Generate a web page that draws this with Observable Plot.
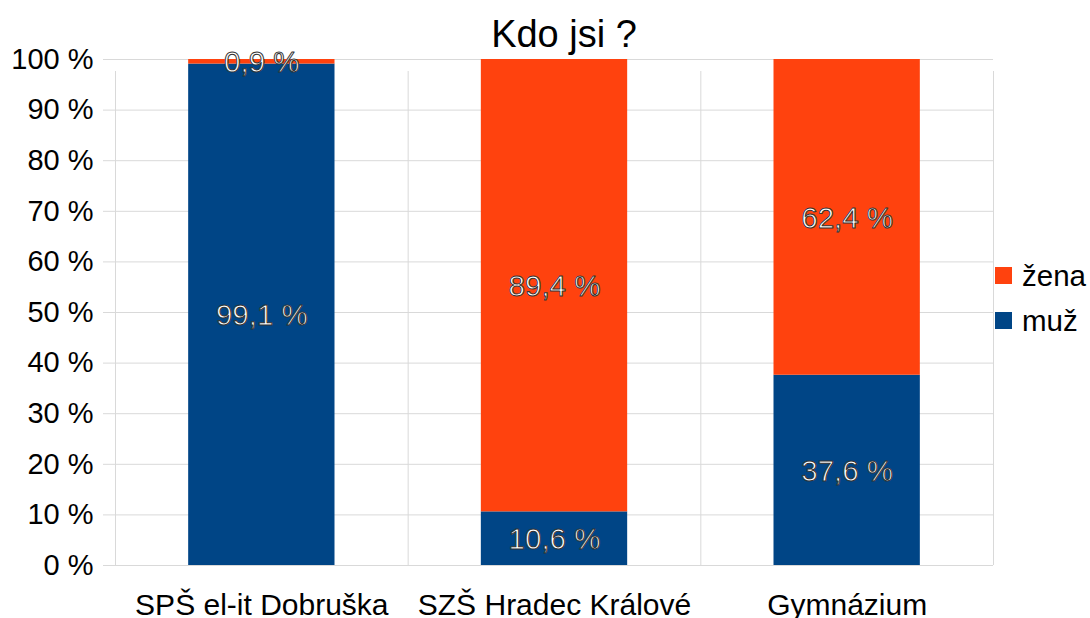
<!DOCTYPE html>
<html>
<head>
<meta charset="utf-8">
<script src="https://cdn.jsdelivr.net/npm/d3@7"></script>
<script src="https://cdn.jsdelivr.net/npm/@observablehq/plot@0.6"></script>
<style>
  html, body { margin: 0; padding: 0; background: #fff; }
  body { font-family: "Liberation Sans", Arial, sans-serif; }
  #wrap { position: relative; width: 1090px; height: 618px; }
  #title { position: absolute; left: 0; width: 1128px; top: 10px; text-align: center; font-size: 38px; line-height: 48px; color: #000; }
  #legend { position: absolute; left: 995px; top: 253px; font-size: 29.5px; color: #000; }
  .item { display: flex; align-items: center; height: 45px; }
  .sw { width: 17px; height: 17px; margin-right: 10px; }
</style>
</head>
<body>
<div id="wrap">
  <div id="chart"></div>
  <div id="title">Kdo jsi ?</div>
  <div id="legend"></div>
</div>
<script>
const categories = ["SPŠ el-it Dobruška", "SZŠ Hradec Králové", "Gymnázium"];
const seriesNames = ["muž", "žena"];
const muz = [99.1, 10.6, 37.6];
const zena = [0.9, 89.4, 62.4];
const colors = ["#004586", "#ff420e"];
const yTicks = [0, 10, 20, 30, 40, 50, 60, 70, 80, 90, 100];

const rows = [];
categories.forEach((c, i) => {
  rows.push({cat: c, i, series: seriesNames[0], value: muz[i]});
  rows.push({cat: c, i, series: seriesNames[1], value: zena[i]});
});
const fmt = v => v.toFixed(1).replace(".", ",") + " %";

const chart = Plot.plot({
  width: 1090,
  height: 618,
  marginLeft: 115,
  marginRight: 97,
  marginTop: 59,
  marginBottom: 53,
  style: {fontFamily: "Liberation Sans, Arial, sans-serif", fontSize: "29px", background: "#fff", overflow: "visible"},
  x: {type: "linear", domain: [0, categories.length], axis: null},
  y: {domain: [0, 100], axis: null},
  color: {domain: seriesNames, range: colors},
  marks: [
    Plot.ruleY(yTicks, {stroke: "#d9d9d9", strokeWidth: 1, insetLeft: -12}),
    Plot.ruleX(d3.range(categories.length + 1), {y1: 0, y2: 100, stroke: "#d9d9d9", strokeWidth: 1, insetBottom: -12}),
    Plot.rectY(rows, Plot.stackY({
      x1: d => d.i + 0.25, x2: d => d.i + 0.75, y: "value", z: "series", fill: "series", order: seriesNames
    })),
    Plot.text(rows, Plot.stackY({
      x: d => d.i + 0.5, y: "value", z: "series", text: d => fmt(d.value), order: seriesNames,
      fill: "white", stroke: "#333", strokeWidth: 1, paintOrder: "normal", fontSize: 29.5, dy: 1
    })),
    Plot.axisY(yTicks, {label: null, tickSize: 0, tickPadding: 22, tickFormat: d => d + " %", fill: "#000", fontSize: 29})
    ,
    Plot.axisX(categories.map((c, i) => i + 0.5), {label: null, tickSize: 0, tickPadding: 28, tickFormat: (d) => categories[Math.floor(d)], fill: "#000", fontSize: 30})
  ]
});
document.getElementById("chart").appendChild(chart);

const legend = document.getElementById("legend");
[1, 0].forEach(k => {
  const it = document.createElement("div");
  it.className = "item";
  it.innerHTML = `<div class="sw" style="background:${colors[k]}"></div><span>${seriesNames[k]}</span>`;
  legend.appendChild(it);
});
</script>
</body>
</html>
